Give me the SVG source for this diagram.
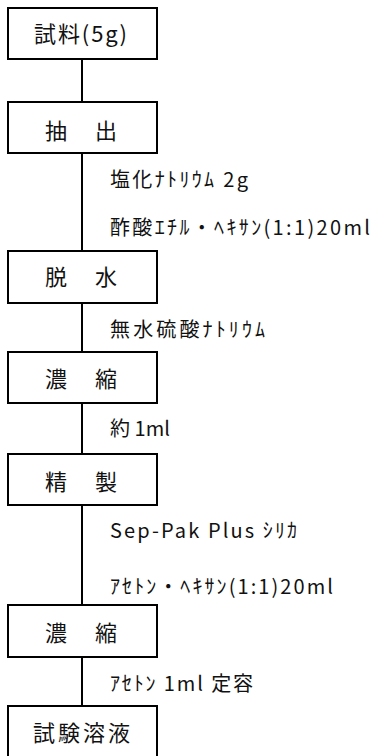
<svg xmlns="http://www.w3.org/2000/svg" width="375" height="756" viewBox="0 0 375 756">
<style>
.box{fill:#fff;stroke:#000;stroke-width:2}
.conn{stroke:#000;stroke-width:2;fill:none}
.bl{font-family:"Noto Sans CJK JP","Noto Sans",sans-serif;font-size:22px;fill:#111}
.sl{font-family:"Noto Sans CJK JP","Noto Sans",sans-serif;font-size:20px;fill:#111}
</style>
<rect width="375" height="756" fill="#fff"/>
<g id="connectors">
<line class="conn" x1="82" y1="59" x2="82" y2="102"/>
<line class="conn" x1="82" y1="153" x2="82" y2="251"/>
<line class="conn" x1="82" y1="303" x2="82" y2="352"/>
<line class="conn" x1="82" y1="403" x2="82" y2="454"/>
<line class="conn" x1="82" y1="505" x2="82" y2="605"/>
<line class="conn" x1="82" y1="657" x2="82" y2="706"/>
</g>
<g id="n1"><rect class="box" x="8" y="8" width="149" height="51"/><text class="bl" x="34" y="41.5" textLength="93" lengthAdjust="spacing">試料(5g)</text></g>
<g id="n2"><rect class="box" x="8" y="102" width="149" height="51"/><text class="bl" x="45" y="138.5" textLength="72" lengthAdjust="spacing">抽　出</text></g>
<g id="n3"><rect class="box" x="8" y="251" width="149" height="52"/><text class="bl" x="45" y="285" textLength="72" lengthAdjust="spacing">脱　水</text></g>
<g id="n4"><rect class="box" x="8" y="352" width="149" height="51"/><text class="bl" x="45" y="387" textLength="72" lengthAdjust="spacing">濃　縮</text></g>
<g id="n5"><rect class="box" x="8" y="454" width="149" height="51"/><text class="bl" x="45" y="489.5" textLength="72" lengthAdjust="spacing">精　製</text></g>
<g id="n6"><rect class="box" x="8" y="605" width="149" height="52"/><text class="bl" x="45" y="641" textLength="72" lengthAdjust="spacing">濃　縮</text></g>
<g id="n7"><rect class="box" x="8" y="706" width="149" height="70"/><text class="bl" x="33" y="740.5" textLength="97" lengthAdjust="spacing">試験溶液</text></g>
<g id="labels">
<text class="sl" x="110" y="187" textLength="138" lengthAdjust="spacing">塩化ﾅﾄﾘｳﾑ 2g</text>
<text class="sl" x="110" y="235" textLength="260" lengthAdjust="spacing">酢酸ｴﾁﾙ・ﾍｷｻﾝ(1:1)20ml</text>
<text class="sl" x="110" y="337" textLength="155" lengthAdjust="spacing">無水硫酸ﾅﾄﾘｳﾑ</text>
<text class="sl" x="110" y="436" textLength="60" lengthAdjust="spacing">約 1ml</text>
<text class="sl" x="110" y="538" textLength="187" lengthAdjust="spacing">Sep-Pak Plus ｼﾘｶ</text>
<text class="sl" x="110" y="594" textLength="223" lengthAdjust="spacing">ｱｾﾄﾝ・ﾍｷｻﾝ(1:1)20ml</text>
<text class="sl" x="110" y="691" textLength="143" lengthAdjust="spacing">ｱｾﾄﾝ 1ml 定容</text>
</g>
</svg>
